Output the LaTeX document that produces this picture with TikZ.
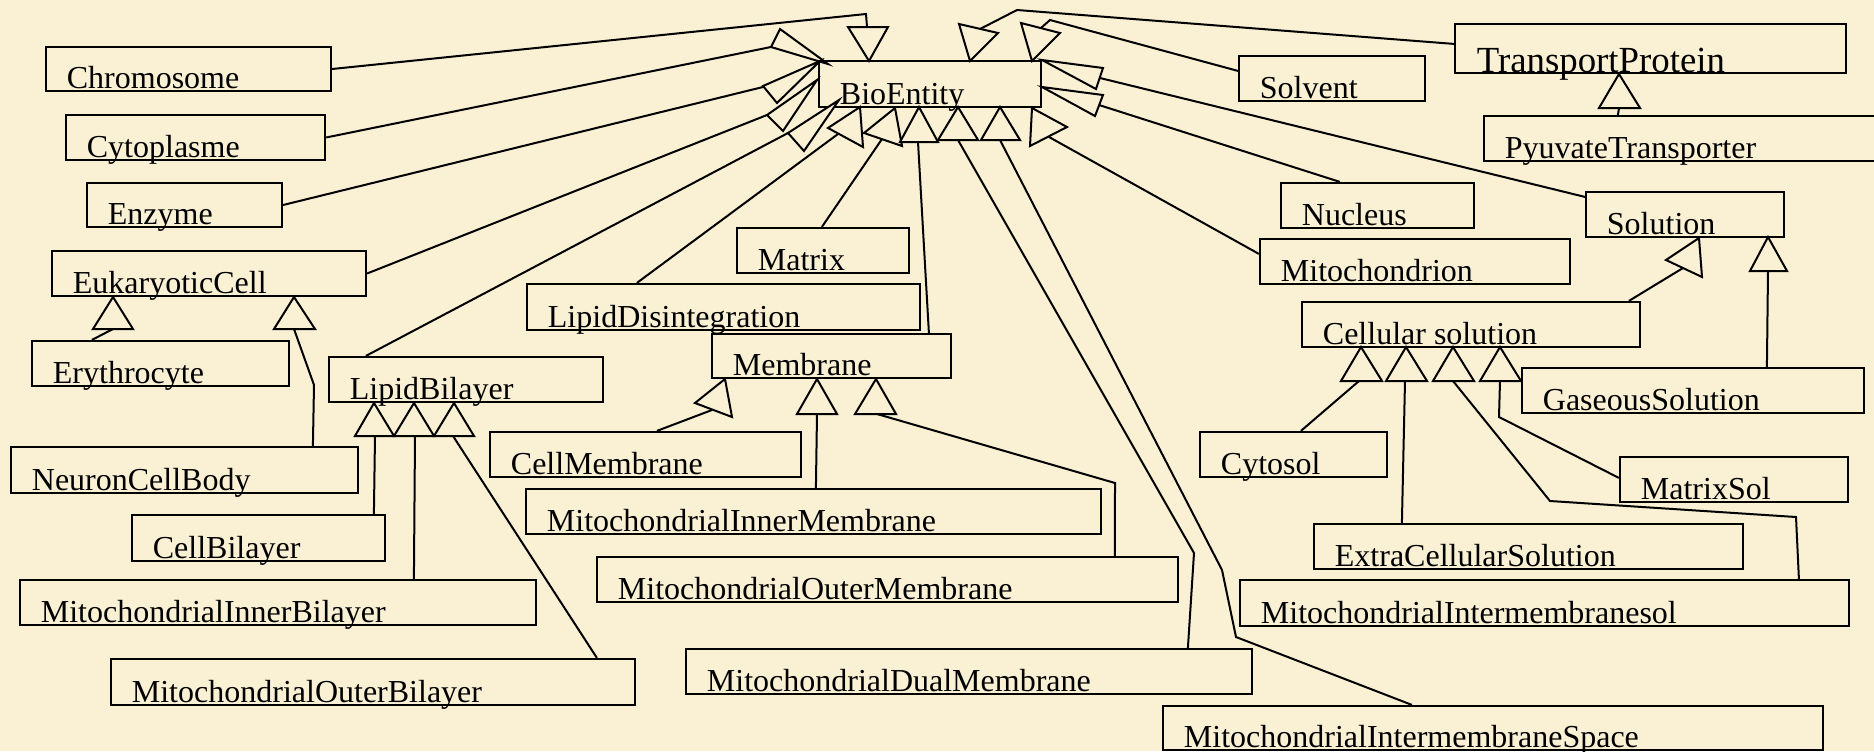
\documentclass[tikz,border=0pt]{standalone}
\usepackage{fontspec}
\setmainfont{Liberation Serif}
\usetikzlibrary{fit,calc}
\definecolor{bg}{RGB}{250,241,213}
\newcommand\bx[6]{\node[box, fit={(#2,#3) (#4,#5)}] (#1) {};
  \node[lbl] (#1-t) at ($(#1.south west)+(21,-4)$) {#6};}
\newcommand\trig[3]{\draw[tri] #1 -- #2 -- #3 -- cycle;}
\begin{document}
\begin{tikzpicture}[x=0.5pt,y=-0.5pt, line width=1pt,
  box/.style={draw, line width=1.1pt, inner sep=0pt},
  lbl/.style={anchor=base west, inner sep=0pt, font=\fontsize{16}{19}\selectfont},
  tri/.style={draw, fill=bg, line join=miter},
  con/.style={draw, line join=miter}]
\fill[bg] (0,0) rectangle (1874,751);
\useasboundingbox (0,0) rectangle (1874,751);
\clip (0,0) rectangle (1874,751);
% boxes
\bx{chrom}{46}{47}{331}{91}{Chromosome}
\bx{cyto}{66}{115}{325}{160}{Cytoplasme}
\bx{enz}{87}{183}{282}{227}{Enzyme}
\bx{euk}{52}{251}{366}{296}{EukaryoticCell}
\bx{ery}{32}{341}{289}{386}{Erythrocyte}
\bx{neur}{11}{447}{358}{493}{NeuronCellBody}
\bx{lipbi}{329}{357}{603}{402}{LipidBilayer}
\bx{cellbi}{132}{515}{385}{561}{CellBilayer}
\bx{mib}{20}{580}{536}{625}{MitochondrialInnerBilayer}
\bx{mob}{111}{659}{635}{705}{MitochondrialOuterBilayer}
\bx{bio}{819}{61}{1041}{107}{BioEntity}
\bx{matrix}{737}{228}{909}{273}{Matrix}
\bx{lipdis}{527}{284}{920}{330}{LipidDisintegration}
\bx{memb}{712}{334}{951}{378}{Membrane}
\bx{cellm}{490}{432}{801}{477}{CellMembrane}
\bx{mim}{526}{489}{1101}{534}{MitochondrialInnerMembrane}
\bx{mom}{597}{557}{1178}{602}{MitochondrialOuterMembrane}
\bx{mdm}{686}{649}{1252}{694}{MitochondrialDualMembrane}
\bx{mis}{1163}{706}{1823}{750}{MitochondrialIntermembraneSpace}
\bx{solv}{1239}{56}{1425}{101}{Solvent}
\node[box, fit={(1455,24) (1846,73)}] (tp) {};
\node[lbl, font=\fontsize{18.4}{22}\selectfont] (tp-t) at ($(tp.south west)+(22,-2)$) {TransportProtein};
\bx{pyt}{1484}{116}{1890}{161}{PyuvateTransporter}
\bx{nuc}{1281}{183}{1474}{228}{Nucleus}
\bx{sol}{1586}{192}{1784}{237}{Solution}
\bx{mito}{1260}{239}{1570}{284}{Mitochondrion}
\bx{cs}{1302}{302}{1640}{347}{Cellular solution}
\bx{gas}{1522}{368}{1864}{413}{GaseousSolution}
\bx{cytosol}{1200}{432}{1387}{477}{Cytosol}
\bx{msol}{1620}{457}{1848}{502}{MatrixSol}
\bx{ecs}{1314}{524}{1743}{569}{ExtraCellularSolution}
\bx{misol}{1240}{580}{1849}{626}{MitochondrialIntermembranesol}
% ---- generalisations to BioEntity
\draw[con] (chrom.east) -- (866,14) -- (867,27);
\trig{(848,27)}{(888,27)}{(869,61)}
\draw[con] (cyto.east) -- (771,47);
\trig{(771,47)}{(780,29)}{(828,64)}
\draw[con] (enz.east) -- (763,87);
\trig{(763,86)}{(777,103)}{(820,61)}
\draw[con] (euk.east) -- (767,115);
\trig{(767,115)}{(783,131)}{(817,80)}
\draw[con] ($(lipbi.north west)+(38,0)$) -- (788,133);
\trig{(788,133)}{(804,151)}{(839,100)}
\draw[con] ($(lipdis.north west)+(111,0)$) -- (838,134);
\trig{(828,128)}{(863,147)}{(860,107)}
\draw[con] ($(matrix.north west)+(86,0)$) -- (882,139);
\trig{(864,133)}{(902,146)}{(895,108)}
\draw[con] ($(memb.north west)+(218,0)$) -- (918,142);
\trig{(900,142)}{(938,142)}{(919,107)}
\draw[con] ($(mdm.north west)+(503,0)$) -- (1194,553) -- (958,140);
\trig{(938,140)}{(978,140)}{(958,107)}
\draw[con] ($(mis.north west)+(250,0)$) -- (1236,637) -- (1222,570) -- (1000,140);
\trig{(981,140)}{(1020,140)}{(1000,107)}
\draw[con] ($(mito.north west)+(0,16)$) -- (1049,137);
\trig{(1067,127)}{(1030,146)}{(1032,108)}
\draw[con] ($(tp.north west)+(0,21)$) -- (1017,10) -- (980,29);
\trig{(959,24)}{(998,33)}{(970,61)}
\draw[con] ($(solv.north west)+(0,16)$) -- (1050,20) -- (1041,28);
\trig{(1021,23)}{(1060,33)}{(1032,61)}
\draw[con] ($(sol.north west)+(0,6)$) -- (1100,78);
\trig{(1103,68)}{(1096,89)}{(1042,60)}
\draw[con] ($(nuc.north west)+(60,0)$) -- (1099,105);
\trig{(1103,95)}{(1095,116)}{(1042,87)}
% ---- EukaryoticCell
\draw[con] ($(ery.north west)+(61,0)$) -- (113,329);
\trig{(93,329)}{(133,329)}{(113,297)}
\draw[con] ($(neur.north west)+(303,0)$) -- (314,385) -- (294,329);
\trig{(274,329)}{(315,329)}{(294,297)}
% ---- LipidBilayer
\draw[con] ($(cellbi.north west)+(243,0)$) -- (375,436);
\trig{(355,436)}{(394,436)}{(374,403)}
\draw[con] ($(mib.north west)+(395,0)$) -- (415,436);
\trig{(394,436)}{(434,436)}{(414,403)}
\draw[con] ($(mob.north west)+(487,0)$) -- (453,436);
\trig{(434,436)}{(474,436)}{(454,403)}
% ---- Membrane
\draw[con] ($(cellm.north west)+(168,0)$) -- (712,410);
\trig{(695,403)}{(732,417)}{(725,379)}
\draw[con] ($(mim.north west)+(291,0)$) -- (817,414);
\trig{(797,414)}{(837,414)}{(817,379)}
\draw[con] ($(mom.north west)+(519,0)$) -- (1115,483) -- (877,414);
\trig{(855,414)}{(896,414)}{(876,379)}
% ---- Cellular solution
\draw[con] ($(cytosol.north west)+(102,0)$) -- (1359,381);
\trig{(1341,381)}{(1382,381)}{(1361,347)}
\draw[con] ($(ecs.north west)+(89,0)$) -- (1405,381);
\trig{(1386,381)}{(1427,381)}{(1406,347)}
\draw[con] ($(misol.north west)+(560,0)$) -- (1796,517) -- (1550,501) -- (1453,381);
\trig{(1433,381)}{(1474,381)}{(1453,347)}
\draw[con] ($(msol.north west)+(0,22)$) -- (1499,417) -- (1500,381);
\trig{(1480,381)}{(1521,381)}{(1500,347)}
% ---- Solution
\draw[con] ($(cs.north west)+(328,0)$) -- (1683,268);
\trig{(1666,260)}{(1702,277)}{(1699,238)}
\draw[con] ($(gas.north west)+(246,0)$) -- (1768,271);
\trig{(1750,271)}{(1787,271)}{(1768,237)}
% ---- TransportProtein
\draw[con] ($(pyt.north west)+(135,0)$) -- (1619,108);
\trig{(1599,108)}{(1640,108)}{(1619,74)}
\end{tikzpicture}
\end{document}
